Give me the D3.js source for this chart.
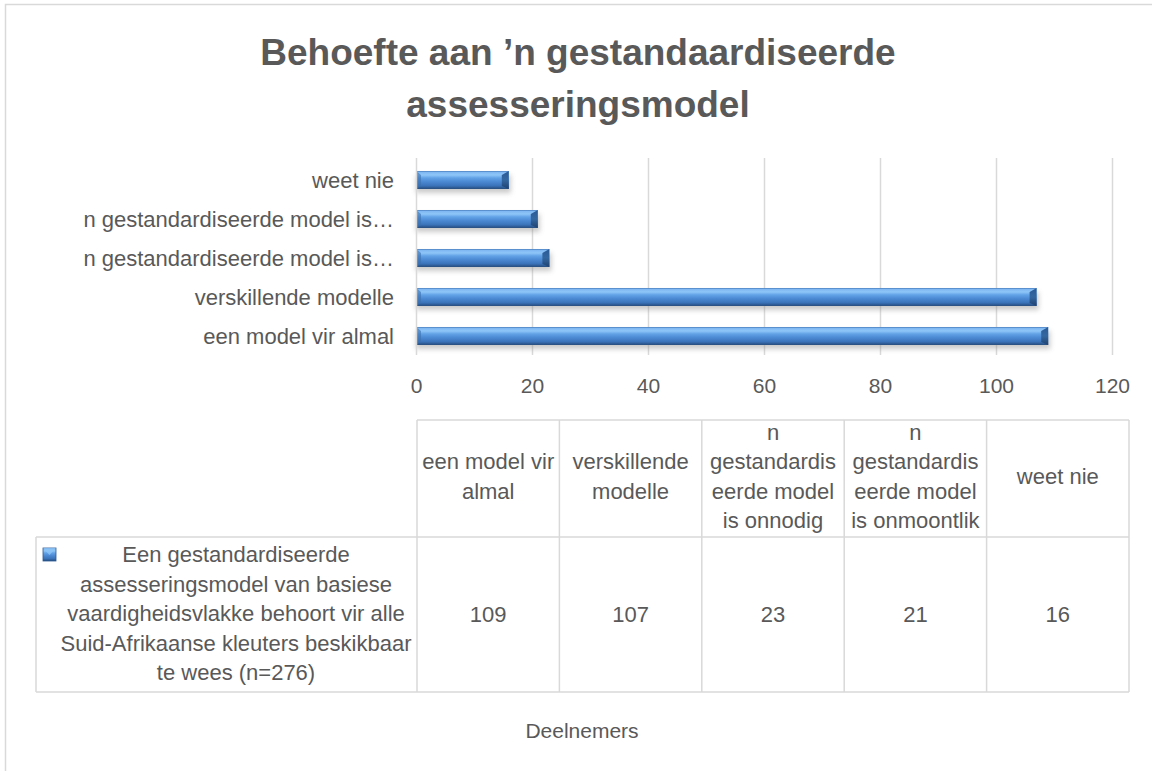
<!DOCTYPE html>
<html>
<head>
<meta charset="utf-8">
<script src="https://cdn.jsdelivr.net/npm/d3@7"></script>
<style>
  html, body { margin: 0; padding: 0; background: #ffffff; }
  svg { display: block; font-family: "Liberation Sans", Arial, sans-serif; }
</style>
</head>
<body>
<svg id="chart" width="1152" height="771"></svg>
<script>
// ---- data ----
const titleLines = ["Behoefte aan \u2019n gestandaardiseerde", "assesseringsmodel"];
const categories = ["een model vir almal", "verskillende modelle", "n gestandardiseerde model is onnodig", "n gestandardiseerde model is onmoontlik", "weet nie"];
const axisLabels = ["een model vir almal", "verskillende modelle", "n gestandardiseerde model is\u2026", "n gestandardiseerde model is\u2026", "weet nie"];
const values = [109, 107, 23, 21, 16];
const headerLines = [
  ["een model vir", "almal"],
  ["verskillende", "modelle"],
  ["n", "gestandardis", "eerde model", "is onnodig"],
  ["n", "gestandardis", "eerde model", "is onmoontlik"],
  ["weet nie"]
];
const seriesLines = ["Een gestandardiseerde", "assesseringsmodel van basiese", "vaardigheidsvlakke behoort vir alle", "Suid-Afrikaanse kleuters beskikbaar", "te wees (n=276)"];
const xTicks = [0, 20, 40, 60, 80, 100, 120];
const axisTitle = "Deelnemers";

// ---- setup ----
const svg = d3.select("#chart");
const textColor = "#595959";
const gridColor = "#d9d9d9";
const fs = 22;

const defs = svg.append("defs");
const grad = defs.append("linearGradient").attr("id", "barGrad").attr("x1", 0).attr("y1", 0).attr("x2", 0).attr("y2", 1);
[[0, "#3f74b8"], [0.07, "#7fb8f2"], [0.22, "#8fc6f8"], [0.38, "#62a2e6"], [0.6, "#4a88d2"], [0.82, "#3b73b9"], [0.93, "#2c5a94"], [1, "#23497a"]]
  .forEach(([o, c]) => grad.append("stop").attr("offset", o).attr("stop-color", c));
const endGrad = defs.append("linearGradient").attr("id", "endGrad").attr("x1", 0).attr("y1", 0).attr("x2", 0).attr("y2", 1);
[[0, "#2b5a96"], [0.5, "#34679f"], [1, "#1f4170"]].forEach(([o, c]) => endGrad.append("stop").attr("offset", o).attr("stop-color", c));
const shadow = defs.append("filter").attr("id", "shadow").attr("x", "-5%").attr("y", "-50%").attr("width", "110%").attr("height", "250%");
shadow.append("feGaussianBlur").attr("stdDeviation", 2.5);

// chart frame
svg.append("rect").attr("x", 5.5).attr("y", 4.5).attr("width", 1160).attr("height", 780)
  .attr("fill", "none").attr("stroke", gridColor).attr("stroke-width", 1.5);

// title
svg.append("g").selectAll("text").data(titleLines).join("text")
  .attr("x", 578).attr("y", (d, i) => 65 + i * 52)
  .attr("text-anchor", "middle").attr("fill", textColor)
  .attr("font-size", 37).attr("font-weight", "bold").text(d => d);

// scales
const x = d3.scaleLinear().domain([0, 120]).range([416, 1112]);
const y = d3.scaleBand().domain(categories.slice().reverse()).range([160.5, 355.5]).paddingInner(0.54).paddingOuter(0.27);

// gridlines
svg.append("g").selectAll("line").data(xTicks.filter(t => t > 0)).join("line")
  .attr("x1", d => x(d) + 0.5).attr("x2", d => x(d) + 0.5)
  .attr("y1", 158).attr("y2", 355)
  .attr("stroke", gridColor).attr("stroke-width", 1.5);

// x axis tick labels
const xAxis = d3.axisBottom(x).tickValues(xTicks).tickSize(0).tickPadding(0);
const xg = svg.append("g").attr("transform", "translate(0,378)").call(xAxis);
xg.select(".domain").remove();
xg.selectAll("text").attr("font-size", 21).attr("fill", textColor)
  .attr("font-family", "Liberation Sans, Arial, sans-serif").attr("dy", "0.72em");

// y axis labels
const yAxis = d3.axisLeft(y).tickSize(0).tickPadding(0).tickFormat(d => axisLabels[categories.indexOf(d)]);
const yg = svg.append("g").attr("transform", "translate(394,0)").call(yAxis);
yg.select(".domain").remove();
yg.selectAll("text").attr("font-size", fs).attr("fill", textColor)
  .attr("font-family", "Liberation Sans, Arial, sans-serif").attr("dy", "0.35em");

// bars
const bars = svg.append("g").selectAll("g").data(categories).join("g");
const bh = y.bandwidth();
bars.append("rect")
  .attr("x", x(0)).attr("y", d => y(d) + 4)
  .attr("width", d => x(values[categories.indexOf(d)]) - x(0) + 2).attr("height", bh)
  .attr("fill", "#8a8a8a").attr("opacity", 0.45).attr("filter", "url(#shadow)");
bars.append("rect")
  .attr("x", x(0)).attr("y", d => y(d))
  .attr("width", d => x(values[categories.indexOf(d)]) - x(0)).attr("height", bh)
  .attr("fill", "url(#barGrad)");
// right-end bevel
bars.append("path")
  .attr("d", d => {
    const x1 = x(values[categories.indexOf(d)]), y0 = y(d), y1 = y(d) + bh;
    return `M${x1 - 7},${y0 + 4} L${x1},${y0} L${x1},${y1} L${x1 - 7},${y1 - 3} Z`;
  })
  .attr("fill", "url(#endGrad)");
// left-end bevel shade
bars.append("path")
  .attr("d", d => {
    const x0 = x(0), y0 = y(d), y1 = y(d) + bh;
    return `M${x0},${y0} L${x0 + 5},${y0 + 4} L${x0 + 5},${y1 - 3} L${x0},${y1} Z`;
  })
  .attr("fill", "#3c6fae").attr("opacity", 0.6);

// category axis line
svg.append("line").attr("x1", x(0) + 0.5).attr("x2", x(0) + 0.5).attr("y1", 158).attr("y2", 355)
  .attr("stroke", gridColor).attr("stroke-width", 1.5);

// ---- data table ----
const colX = d3.scaleBand().domain(categories).range([417, 1129]);
const tblLeft = 36, headTop = 420, rowTop = 537, rowBottom = 692;
const tg = svg.append("g");
const lineAttrs = s => s.attr("stroke", gridColor).attr("stroke-width", 1.5);
lineAttrs(tg.append("line").attr("x1", 417).attr("x2", 1129).attr("y1", headTop).attr("y2", headTop));
lineAttrs(tg.append("line").attr("x1", tblLeft).attr("x2", 1129).attr("y1", rowTop).attr("y2", rowTop));
lineAttrs(tg.append("line").attr("x1", tblLeft).attr("x2", 1129).attr("y1", rowBottom).attr("y2", rowBottom));
lineAttrs(tg.append("line").attr("x1", tblLeft).attr("x2", tblLeft).attr("y1", rowTop).attr("y2", rowBottom));
tg.selectAll("line.v").data(categories.concat(["end"])).join("line").attr("class", "v")
  .attr("x1", (d, i) => i < categories.length ? colX(d) : colX.range()[1])
  .attr("x2", (d, i) => i < categories.length ? colX(d) : colX.range()[1])
  .attr("y1", headTop).attr("y2", rowBottom)
  .call(lineAttrs);

// header text
const lh = 29.5;
categories.forEach((c, i) => {
  const lines = headerLines[i];
  const cy = (headTop + rowTop) / 2 - 2;
  const startY = cy - (lines.length - 1) * lh / 2;
  tg.append("g").selectAll("text").data(lines).join("text")
    .attr("x", colX(c) + colX.bandwidth() / 2)
    .attr("y", (d, j) => startY + j * lh)
    .attr("dy", "0.35em").attr("text-anchor", "middle")
    .attr("font-size", fs).attr("fill", textColor).text(d => d);
});

// values row
tg.append("g").selectAll("text").data(categories).join("text")
  .attr("x", d => colX(d) + colX.bandwidth() / 2)
  .attr("y", (rowTop + rowBottom) / 2)
  .attr("dy", "0.35em").attr("text-anchor", "middle")
  .attr("font-size", fs).attr("fill", textColor)
  .text(d => values[categories.indexOf(d)]);

// series label with legend key
const key = tg.append("g");
key.append("rect").attr("x", 43).attr("y", 548).attr("width", 13).attr("height", 13).attr("fill", "url(#barGrad)")
  .attr("stroke", "#2c5a94").attr("stroke-width", 0.8);
key.append("path").attr("d", "M43,548 L56,548 L49.5,555 Z").attr("fill", "#8cc3f6").attr("opacity", 0.8);
const sCy = (rowTop + rowBottom) / 2 - 1;
tg.append("g").selectAll("text").data(seriesLines).join("text")
  .attr("x", 236)
  .attr("y", (d, j) => sCy + (j - (seriesLines.length - 1) / 2) * lh)
  .attr("dy", "0.35em").attr("text-anchor", "middle")
  .attr("font-size", fs).attr("fill", textColor).text(d => d);

// axis title
svg.append("text").attr("x", 582).attr("y", 738).attr("text-anchor", "middle")
  .attr("font-size", 21).attr("fill", textColor).text(axisTitle);
</script>
</body>
</html>
